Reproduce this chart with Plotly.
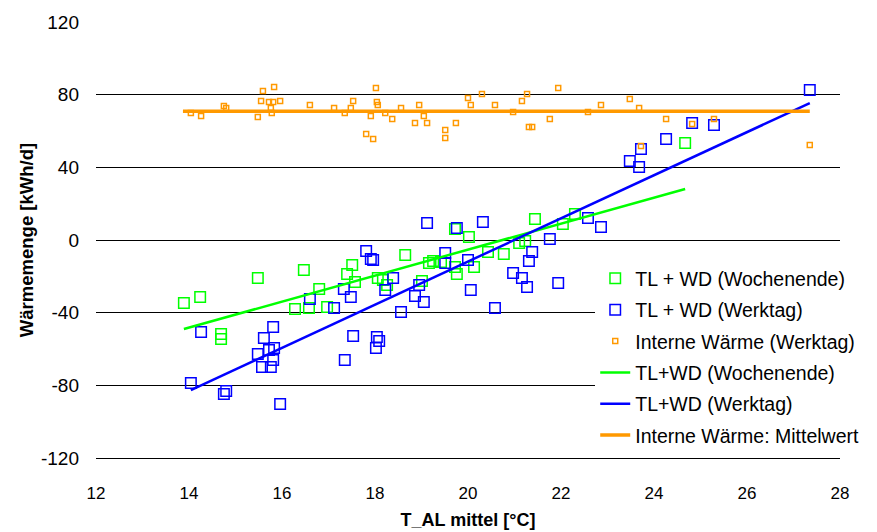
import plotly.graph_objects as go

# TL + WD (Wochenende) – green open squares
we_x = [13.89, 14.24, 14.69, 14.69, 15.48, 16.47, 16.80, 16.28, 16.58, 16.97,
        17.51, 17.40, 17.57, 18.06, 18.17, 18.26, 21.44, 22.30, 22.04, 19.72,
        20.02, 18.65, 19.16, 19.25, 19.42, 19.72, 19.76, 20.13, 20.43, 20.77,
        21.10, 21.23, 19.01, 24.67]
we_y = [-34.7, -31.4, -51.7, -54.5, -20.9, -16.5, -27.0, -38.0, -37.4, -36.9,
        -13.8, -18.7, -23.1, -20.9, -22.0, -24.8, 11.6, 14.3, 8.8, 6.1,
        1.7, -8.3, -12.7, -11.6, -12.1, -14.9, -18.7, -14.9, -6.6, -7.7,
        -1.7, -0.6, -22.6, 53.4]

# TL + WD (Werktag) – blue open squares
wt_x = [17.81, 17.91, 17.96, 17.33, 17.48, 16.60, 17.12, 18.22, 14.26, 15.81,
        15.61, 15.72, 15.83, 15.48, 15.81, 15.57, 15.76, 17.35, 17.53, 18.04,
        18.09, 18.02, 14.04, 14.80, 14.75, 15.96,
        19.12, 19.76, 20.32, 19.51, 19.51, 20.00, 18.39, 18.95, 18.86, 19.05,
        18.56, 20.06, 20.58, 20.97, 21.16, 21.27, 21.31, 21.38, 21.76, 21.94,
        22.58, 22.86,
        24.82, 25.29, 24.26, 23.72, 23.48, 23.68, 27.35]
wt_y = [-6.1, -10.5, -11.0, -27.0, -31.4, -32.5, -37.4, -27.5, -50.6, -47.9,
        -53.9, -60.5, -59.4, -62.7, -66.0, -69.9, -69.9, -66.0, -52.8, -53.4,
        -55.6, -59.4, -78.7, -83.1, -84.8, -90.3,
        9.4, 6.6, 9.9, -7.2, -12.7, -11.0, -20.9, -24.8, -30.8, -34.1,
        -39.6, -27.5, -37.4, -18.2, -20.9, -25.9, -11.6, -6.6, 0.6, -23.7,
        12.1, 7.2,
        64.4, 63.3, 55.6, 50.1, 43.5, 40.2, 82.6]

# Interne Wärme (Werktag) – small orange squares
iw_x = [14.04, 14.26, 14.75, 14.80, 15.48, 15.55, 15.59, 15.72, 15.81, 15.83,
        15.76, 15.78, 15.96, 16.60, 17.12, 17.35, 17.53, 17.48, 17.91, 17.81,
        17.96, 18.02, 18.04, 18.06, 18.22, 18.37, 18.56, 18.95, 18.86, 19.05,
        19.12, 19.51, 19.51, 19.74, 20.00, 20.06, 20.30, 20.58, 20.97, 21.16,
        21.27, 21.94, 21.76, 21.31, 21.38, 22.58, 22.86, 23.48, 23.68, 24.26,
        24.82, 25.29, 23.72, 27.35]
iw_y = [69.9, 68.2, 73.7, 72.6, 67.7, 76.5, 82.0, 75.9, 75.9, 84.2,
        72.6, 69.9, 76.5, 74.3, 72.6, 69.9, 76.5, 72.6, 68.2, 58.3,
        55.6, 83.7, 75.9, 74.3, 69.9, 66.6, 72.6, 74.3, 64.4, 68.2,
        64.4, 60.5, 56.1, 64.4, 78.1, 74.3, 80.4, 74.3, 70.4, 76.5,
        80.4, 83.7, 66.6, 62.2, 62.2, 70.4, 74.3, 77.6, 72.6, 66.6,
        63.8, 66.6, 51.7, 52.3]

# Trend lines
we_fit_x = [13.89, 24.67]
we_fit_y = [-49.0, 28.1]
wt_fit_x = [14.04, 27.35]
wt_fit_y = [-82.6, 75.4]
iw_mean_x = [13.87, 27.35]
iw_mean_y = [70.9, 70.9]

x_ticks = [12, 14, 16, 18, 20, 22, 24, 26, 28]
y_ticks = [-120, -80, -40, 0, 40, 80, 120]
y_tick_labels = ["-120", "-80", "-40", "0", "40", "80", "120"]

GREEN = "#00FF00"
BLUE = "#0000FF"
ORANGE = "#FF9900"
FONT = "Liberation Sans, Arial, sans-serif"

fig = go.Figure()
fig.add_trace(go.Scatter(x=we_x, y=we_y, mode="markers", name="TL + WD (Wochenende)",
                         legendgroup="a",
                         marker=dict(symbol="square-open", size=10.5, color=GREEN,
                                     line=dict(width=1.5, color=GREEN))))
fig.add_trace(go.Scatter(x=wt_x, y=wt_y, mode="markers", name="TL + WD (Werktag)",
                         legendgroup="b",
                         marker=dict(symbol="square-open", size=10.5, color=BLUE,
                                     line=dict(width=1.5, color=BLUE))))
fig.add_trace(go.Scatter(x=iw_x, y=iw_y, mode="markers", name="Interne Wärme (Werktag)",
                         legendgroup="c",
                         marker=dict(symbol="square-open", size=5, color=ORANGE,
                                     line=dict(width=1.5, color=ORANGE))))
fig.add_trace(go.Scatter(x=we_fit_x, y=we_fit_y, mode="lines", name="TL+WD (Wochenende)",
                         legendgroup="d",
                         line=dict(color=GREEN, width=2.5)))
fig.add_trace(go.Scatter(x=wt_fit_x, y=wt_fit_y, mode="lines", name="TL+WD (Werktag)",
                         legendgroup="e",
                         line=dict(color=BLUE, width=2.5)))
fig.add_trace(go.Scatter(x=iw_mean_x, y=iw_mean_y, mode="lines", name="Interne Wärme: Mittelwert",
                         legendgroup="f",
                         line=dict(color=ORANGE, width=3.5)))

fig.update_layout(
    width=877, height=532,
    margin=dict(l=88, r=45, t=14, b=82),
    paper_bgcolor="white", plot_bgcolor="white",
    font=dict(family=FONT, size=18, color="black"),
    showlegend=True,
    legend=dict(x=0.671, xanchor="left", y=0.456, yanchor="top",
                bgcolor="white", borderwidth=0,
                font=dict(size=19.5, color="black"),
                tracegroupgap=3, traceorder="grouped",
                itemwidth=30),
    xaxis=dict(range=[12, 28], tickvals=x_ticks, showgrid=False, zeroline=False,
               showline=True, linecolor="black", linewidth=1, automargin=False,
               ticks="", ticklabelstandoff=20,
               tickfont=dict(size=17),
               title=dict(text="<b>T_AL mittel [°C]</b>", font=dict(size=18), standoff=10)),
    yaxis=dict(range=[-120, 120], tickvals=y_ticks, ticktext=y_tick_labels,
               showgrid=True, gridcolor="black",
               gridwidth=1, zeroline=False, showline=False, ticks="", automargin=False,
               ticklabelstandoff=16, tickfont=dict(size=19),
               title=dict(text="<b>Wärmemenge [kWh/d]</b>", font=dict(size=18.5), standoff=2)),
)

fig.write_html("out.html")
